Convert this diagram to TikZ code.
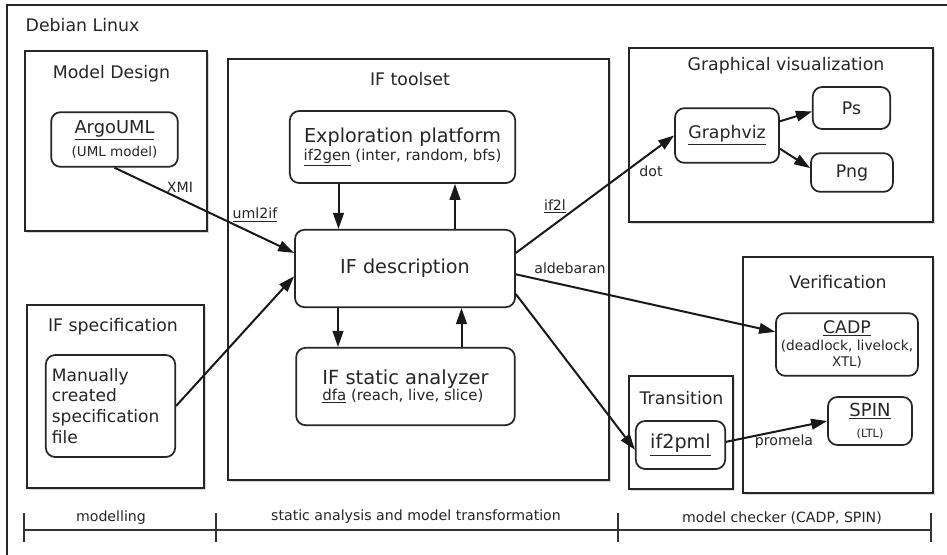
\documentclass[tikz,border=0pt]{standalone}
\usepackage{fontspec}
\setmainfont{DejaVu Sans}
\usepackage{tikz}
\usetikzlibrary{calc, arrows.meta, shadows, positioning}
\tikzset{>={Triangle[length=12pt, width=8pt]}}

\begin{document}
\begin{tikzpicture}[
  x=0.75pt, y=-0.75pt,
  frame/.style={draw=black!85, line width=1.4pt},
  group/.style={draw=black!85, fill=white, line width=1.5pt, drop shadow={shadow xshift=1.6pt, shadow yshift=-1.6pt, opacity=0.3}},
  tool/.style={draw=black!85, fill=white, rounded corners=7pt, line width=1.3pt, align=center, inner sep=2pt, text=black!85},
  title/.style={text=black!85, font=\fontsize{13}{15}\selectfont},
  big/.style={text=black!85, font=\fontsize{14.4}{16}\selectfont},
  lbl/.style={text=black!85, font=\fontsize{10.6}{12}\selectfont},
  flow/.style={->, line width=1.5pt, draw=black!90},
  phaseline/.style={line width=1.3pt, draw=black!80}
]

% Page and clipped outer frame (only top and left borders show)
\useasboundingbox (0,0) rectangle (947,554);
\fill[white] (0,0) rectangle (947,554);
\clip (0,0) rectangle (947,554);
\draw[frame] (7,5) rectangle (962,570);
\node[title, anchor=west] (debian) at (21,25) {Debian Linux};

% Group boxes
\draw[group] (25,51) rectangle (207,231);
\node[title] (tdesign) at (111.5,74) {Model Design};

\draw[group] (27,305) rectangle (204,488);
\node[title] (tspec) at (113,327) {IF specification};

\draw[group] (228,59) rectangle (609,480);
\node[title] (ttools) at (410,79) {IF toolset};

\draw[group] (629,48) rectangle (933,222);
\node[title] (tgraph) at (786,66) {Graphical visualization};

\draw[group] (743,257) rectangle (933,493);
\node[title] (tverif) at (838,282) {Verification};

\draw[group] (629,376) rectangle (733,489);
\node[title] (ttrans) at (681.5,398) {Transition};

% Tools
\node[tool, minimum width=95pt, minimum height=41pt] (argo) at (114.5,139.5)
  {\fontsize{13.4}{14}\selectfont\underline{ArgoUML}\\[4pt]\fontsize{10.1}{11}\selectfont (UML model)};

\node[tool, minimum width=97pt, minimum height=76.5pt, align=left, text width=88pt, font=\fontsize{12.8}{15.6}\selectfont] (manual) at (110.5,406)
  {Manually\\created\\specification\\file};

\node[tool, minimum width=169pt, minimum height=54pt] (explore) at (402.5,147)
  {\fontsize{14.4}{16}\selectfont Exploration platform\\[1pt]\fontsize{11.2}{13}\selectfont\underline{if2gen} (inter, random, bfs)};

\node[tool, big, minimum width=165pt, minimum height=58pt] (ifdesc) at (405,268.5) {IF description};

\node[tool, minimum width=164pt, minimum height=58pt, align=left] (static) at (405.5,386.5)
  {\fontsize{14.6}{16}\selectfont IF static analyzer\\[0pt]\fontsize{11.2}{13}\selectfont\underline{dfa} (reach, live, slice)};

\node[tool, title, minimum width=78pt, minimum height=41pt] (graphviz) at (727,135.5) {\underline{Graphviz}};
\node[tool, title, minimum width=58pt, minimum height=31.5pt] (ps) at (851.5,108) {Ps};
\node[tool, title, minimum width=61.5pt, minimum height=29pt] (png) at (852,172.5) {Png};

\node[tool, minimum width=106.5pt, minimum height=47pt] (cadp) at (847,344.5)
  {\fontsize{13}{14}\selectfont\underline{CADP}\\[1pt]\fontsize{10.3}{11.5}\selectfont (deadlock, livelock,\\XTL)};

\node[tool, minimum width=63pt, minimum height=36pt] (spin) at (870,421)
  {\fontsize{13.5}{14}\selectfont\underline{SPIN}\\[4pt]\fontsize{8.5}{9}\selectfont (LTL)};

\node[tool, big, minimum width=67pt, minimum height=36pt] (if2pml) at (680.5,445) {\underline{if2pml}};

% Connectors
\draw[flow] (argo.south) -- (ifdesc.172);
\draw[flow] (manual.east) -- (ifdesc.184);
\draw[flow] (ifdesc.8.5) -- (graphviz.west);
\draw[flow] (ifdesc.-3) -- (cadp.170);
\draw[flow] (ifdesc.-13.5) -- (if2pml.186);
\draw[flow] (if2pml.4) -- (spin.west);
\draw[flow] (graphviz.15) -- (ps.185);
\draw[flow] (graphviz.-14) -- (png.174);

% Loops inside the toolset
\draw[flow] ($(explore.south)+(-64,0)$) coordinate (d1) -- (d1 |- ifdesc.north);
\draw[flow] ($(ifdesc.north)+(50,0)$) coordinate (u1) -- (u1 |- explore.south);
\draw[flow] ($(ifdesc.south)+(-67,0)$) coordinate (d2) -- (d2 |- static.north);
\draw[flow] ($(static.north)+(56,0)$) coordinate (u2) -- (u2 |- ifdesc.south);

% Connector labels
\node[lbl] (xmi) at (180,187) {XMI};
\node[lbl] (uml2if) at (255,215) {\underline{uml2if}};
\node[lbl] (if2l) at (555,206) {\underline{if2l}};
\node[lbl] (dot) at (651,171) {dot};
\node[lbl] (aldeb) at (570,268) {aldebaran};
\node[lbl] (promela) at (784,442) {promela};

% Phase scale at the bottom
\draw[phaseline] (24,530) -- (931,530);
\foreach \x in {24,216,618,931}
  \draw[phaseline] (\x,513) -- (\x,542);
\node[lbl] (pmodel) at (111,518) {modelling};
\node[lbl] (pstatic) at (416,517) {static analysis and model transformation};
\node[lbl] (pcheck) at (782,518) {model checker (CADP, SPIN)};

\end{tikzpicture}
\end{document}
